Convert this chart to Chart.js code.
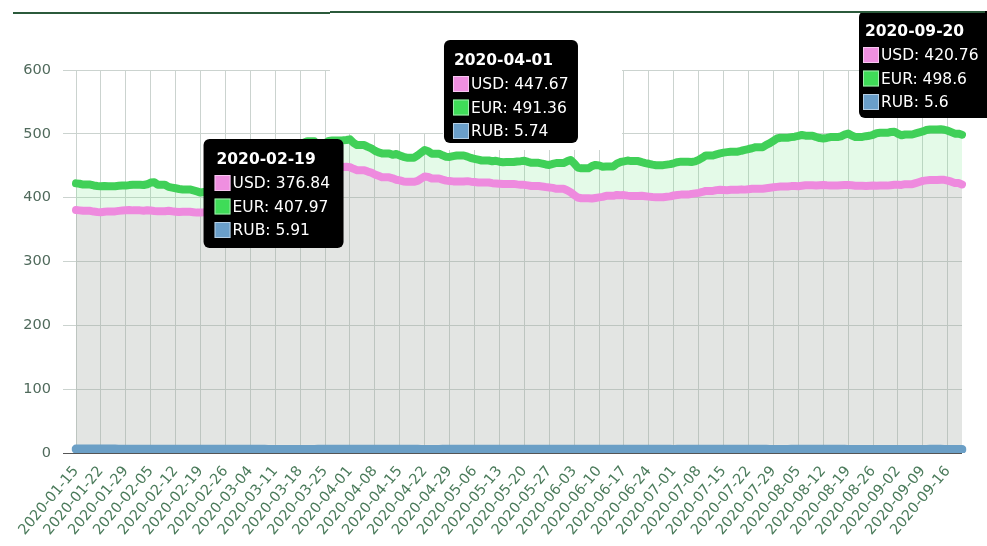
<!DOCTYPE html>
<html><head><meta charset="utf-8">
<script src="https://cdn.jsdelivr.net/npm/chart.js@4.4.1/dist/chart.umd.min.js"></script>
<style>
html,body{margin:0;padding:0;background:#fff;}
#wrap{position:relative;width:987px;height:546px;overflow:hidden;}
canvas{position:absolute;left:0;top:0;}
.topline{position:absolute;height:2px;background:#2b5a3b;}
</style></head><body>
<div id="wrap"><canvas id="c" width="987" height="546"></canvas>
<div class="topline" style="left:13px;top:12px;width:317px"></div>
<div class="topline" style="left:330px;top:11px;width:262px"></div>
<div class="topline" style="left:592px;top:11px;width:393px"></div>
</div>
<script>
// ---- data ----
const startDate = '2020-01-15';
const seriesNames = ['USD', 'EUR', 'RUB'];
const USD = [
380.6,380.1,379.4,379.4,379.4,378.2,377.6,
377.3,377.9,378.5,378.5,378.5,379.3,379.8,
380.2,380.5,380.1,380.1,380.1,379.6,380.3,
379.9,379.2,378.8,378.8,378.8,379.4,378.6,
378.1,377.5,377.9,377.9,377.9,377.2,376.6,
376.84,377.3,378.1,378.1,378.1,379.0,379.6,
380.2,381.4,382.3,382.3,382.3,381.8,382.6,
381.9,382.5,383.6,383.6,383.6,386.0,392.4,
398.5,404.1,411.0,411.0,411.0,421.5,430.2,
438.6,446.9,451.5,451.5,451.5,446.0,448.2,
448.9,450.3,448.6,448.6,448.6,448.1,448.4,
447.67,445.2,443.1,443.1,443.1,440.9,439.3,
436.4,434.2,431.9,431.9,431.9,430.3,428.1,
427.0,425.4,424.9,424.9,424.9,426.3,429.8,
433.1,432.4,430.0,430.0,430.0,428.2,426.7,
426.1,425.5,425.5,425.5,425.5,425.9,425.1,
424.6,423.8,423.8,423.8,423.8,422.7,422.3,
421.9,421.4,421.6,421.6,421.6,420.8,420.3,
420.1,419.3,418.2,418.2,418.2,417.4,416.6,
416.0,415.3,413.9,413.9,413.9,411.6,408.5,
404.2,400.3,399.1,399.1,399.1,398.6,399.5,
400.4,401.2,402.9,402.9,402.9,404.3,403.7,
404.0,403.2,402.6,402.6,402.6,403.1,402.3,
401.6,400.9,400.7,400.7,400.7,401.5,402.0,
403.4,404.1,404.8,404.8,404.8,405.9,406.7,
407.5,408.9,410.6,410.6,410.6,411.8,412.4,
412.0,411.7,412.3,412.3,412.3,413.0,412.6,
413.2,413.9,414.1,414.1,414.1,414.8,415.6,
416.2,416.9,417.5,417.5,417.5,418.1,418.4,
418.0,418.7,419.4,419.4,419.4,419.1,419.6,
420.0,419.5,419.2,419.2,419.2,419.6,419.9,
419.7,419.4,418.8,418.8,418.8,418.3,418.7,
419.0,418.5,418.9,418.9,418.9,419.5,420.1,
420.4,420.0,421.2,421.2,421.2,422.8,424.5,
426.3,427.1,427.6,427.6,427.6,428.2,427.9,
426.8,425.1,423.0,423.0,420.76
];
const EUR = [
422.4,421.8,420.5,420.5,420.5,419.1,418.3,
417.8,418.4,417.9,417.9,417.9,418.6,419.2,
418.9,419.7,420.3,420.3,420.3,419.8,421.0,
423.6,424.2,420.1,420.1,420.1,416.9,415.8,
414.7,413.6,412.9,412.9,412.9,411.4,409.8,
407.97,408.8,410.3,410.3,410.3,411.5,412.8,
414.9,418.7,421.5,421.5,421.5,425.6,427.2,
426.4,428.9,432.5,432.5,432.5,440.8,446.3,
450.1,455.4,460.8,460.8,460.8,470.2,476.5,
481.3,486.2,488.4,488.4,488.4,481.7,483.5,
485.2,488.9,489.6,489.6,489.6,489.8,490.3,
491.36,486.0,482.4,482.4,482.4,479.6,477.2,
473.5,471.0,469.3,469.3,469.3,467.1,468.4,
466.2,464.0,462.7,462.7,462.7,466.3,470.5,
474.6,472.8,468.9,468.9,468.9,466.4,464.2,
463.8,465.1,466.0,466.0,466.0,464.3,462.1,
460.9,459.5,458.2,458.2,458.2,457.0,457.8,
456.3,455.5,455.9,455.9,455.9,456.7,457.2,
457.9,456.1,454.6,454.6,454.6,453.4,452.0,
451.2,452.8,454.3,454.3,454.3,456.9,459.1,
453.8,447.2,446.0,446.0,446.0,449.5,451.3,
450.6,448.4,448.9,448.9,448.9,453.2,455.8,
456.9,458.1,457.3,457.3,457.3,455.6,454.2,
453.1,451.7,450.9,450.9,450.9,451.8,452.5,
453.9,455.6,456.4,456.4,456.4,456.0,456.8,
459.2,462.5,466.1,466.1,466.1,467.9,469.4,
470.6,471.3,472.0,472.0,472.0,473.5,474.8,
476.2,477.4,479.1,479.1,479.1,482.6,485.3,
488.9,492.7,493.9,493.9,493.9,494.8,495.5,
496.7,498.2,497.1,497.1,497.1,495.0,493.4,
492.8,493.6,494.9,494.9,494.9,496.1,498.7,
500.4,497.3,495.2,495.2,495.2,496.3,497.0,
498.5,500.9,501.6,501.6,501.6,502.9,503.4,
500.1,497.8,499.0,499.0,499.0,500.6,502.3,
503.8,505.9,506.8,506.8,506.8,507.2,506.4,
504.9,502.6,500.3,500.3,498.6
];
const RUB = [
6.18,6.19,6.20,6.20,6.20,6.17,6.14,
6.13,6.11,6.10,6.10,6.10,6.07,6.03,
6.00,5.97,5.96,5.96,5.96,5.98,6.01,
6.02,6.00,5.99,5.99,5.99,5.98,5.99,
5.97,5.96,5.95,5.95,5.95,5.93,5.92,
5.91,5.90,5.88,5.88,5.88,5.86,5.83,
5.80,5.77,5.74,5.74,5.74,5.70,5.76,
5.78,5.75,5.69,5.69,5.69,5.42,5.40,
5.52,5.55,5.61,5.61,5.61,5.60,5.62,
5.58,5.52,5.63,5.63,5.63,5.70,5.72,
5.74,5.76,5.78,5.78,5.78,5.76,5.72,
5.74,5.80,5.79,5.79,5.79,5.82,5.90,
5.88,5.86,5.85,5.85,5.85,5.84,5.83,
5.80,5.71,5.73,5.73,5.73,5.70,5.52,
5.56,5.62,5.63,5.63,5.63,5.68,5.75,
5.73,5.79,5.79,5.79,5.79,5.77,5.74,
5.72,5.76,5.76,5.76,5.76,5.82,5.78,
5.74,5.78,5.77,5.77,5.77,5.84,5.88,
5.87,5.86,5.84,5.84,5.84,5.88,5.89,
5.87,5.86,5.87,5.87,5.87,5.93,5.96,
5.94,5.80,5.82,5.82,5.82,5.84,5.83,
5.76,5.78,5.80,5.80,5.80,5.76,5.83,
5.82,5.81,5.80,5.80,5.80,5.83,5.81,
5.79,5.77,5.74,5.74,5.74,5.72,5.68,
5.63,5.69,5.73,5.73,5.73,5.70,5.71,
5.69,5.74,5.78,5.78,5.78,5.77,5.76,
5.79,5.80,5.82,5.82,5.82,5.84,5.85,
5.83,5.80,5.76,5.76,5.76,5.73,5.67,
5.63,5.61,5.59,5.59,5.59,5.68,5.70,
5.71,5.70,5.73,5.73,5.73,5.69,5.74,
5.72,5.71,5.70,5.70,5.70,5.71,5.69,
5.67,5.65,5.61,5.61,5.61,5.62,5.63,
5.61,5.58,5.55,5.55,5.55,5.59,5.60,
5.59,5.56,5.53,5.53,5.53,5.59,5.61,
5.63,5.64,5.68,5.68,5.68,5.70,5.66,
5.64,5.62,5.60,5.60,5.60
];
const yTicks = [0, 100, 200, 300, 400, 500, 600];
const tickEvery = 7;
const tooltipDays = ['2020-02-19', '2020-04-01', '2020-09-20'];

// category labels: consecutive days from startDate
const labels = [];
{
  const d0 = new Date(startDate + 'T00:00:00Z');
  for (let i = 0; i < USD.length; i++) {
    const d = new Date(d0.getTime() + i * 86400000);
    labels.push(d.toISOString().slice(0, 10));
  }
}

// ---- styling (not data) ----
const lineColors = ['#ee8ade', '#40d058', '#6b9fc6'];
const boxColors = ['#ef8fe0', '#3fdc58', '#6a9fca'];
const tipGeom = [
  {dx: 3,   top: 139, w: 140, h: 109, tx: 13, bx: 11},
  {dx: 94,  top: 40,  w: 134, h: 103, tx: 10, bx: 9},
  {dx: -103,top: 11,  w: 140, h: 107, tx: 6,  bx: 4}
];
// blank (white) areas left around the pasted tooltip in the source picture
const blankAreas = [
  {x0: 330, x1: 443, y0: 60, y1: 133},
  {x0: 443, x1: 622, y0: 40, y1: 150}
];

const tipPlugin = {
  id: 'fixedTips',
  beforeDatasetsDraw(chart) {
    const ctx = chart.ctx;
    ctx.save();
    ctx.fillStyle = '#fff';
    blankAreas.forEach(a => ctx.fillRect(a.x0, a.y0, a.x1 - a.x0, a.y1 - a.y0));
    ctx.restore();
  },
  afterDraw(chart) {
    const ctx = chart.ctx;
    const xs = chart.scales.x;
    tooltipDays.forEach((day, k) => {
      const idx = labels.indexOf(day);
      const g = tipGeom[k];
      const left = xs.getPixelForValue(idx) + g.dx;
      const top = g.top;
      ctx.save();
      ctx.fillStyle = '#000';
      ctx.beginPath();
      ctx.roundRect(left, top, g.w, g.h, 6);
      ctx.fill();
      ctx.fillStyle = '#fff';
      ctx.textBaseline = 'alphabetic';
      ctx.textAlign = 'left';
      ctx.font = 'bold 15.5px "DejaVu Sans"';
      ctx.fillText(labels[idx], left + g.tx, top + 25);
      ctx.font = '15.5px "DejaVu Sans"';
      chart.data.datasets.forEach((ds, i) => {
        const by = top + 36 + 23.5 * i;
        ctx.fillStyle = boxColors[i];
        ctx.fillRect(left + g.bx, by, 16, 16);
        ctx.strokeStyle = 'rgba(255,255,255,0.5)';
        ctx.lineWidth = 1;
        ctx.strokeRect(left + g.bx + 0.5, by + 0.5, 15, 15);
        ctx.fillStyle = '#fff';
        ctx.fillText(ds.label + ': ' + ds.data[idx], left + g.bx + 18, top + 49 + 23.5 * i);
      });
      ctx.restore();
    });
  }
};

new Chart(document.getElementById('c'), {
  type: 'line',
  data: {
    labels: labels,
    datasets: [
      {label: seriesNames[0], data: USD, borderColor: lineColors[0], backgroundColor: 'rgba(150,160,150,0.27)',
       fill: 'origin', borderWidth: 8, pointRadius: 0, tension: 0, borderJoinStyle: 'round', borderCapStyle: 'round', order: 1},
      {label: seriesNames[1], data: EUR, borderColor: lineColors[1], backgroundColor: 'rgba(120,230,140,0.2)',
       fill: 0, borderWidth: 8, pointRadius: 0, tension: 0, borderJoinStyle: 'round', borderCapStyle: 'round', order: 2},
      {label: seriesNames[2], data: RUB, borderColor: lineColors[2], backgroundColor: lineColors[2],
       fill: false, borderWidth: 9, pointRadius: 0, tension: 0, borderJoinStyle: 'round', borderCapStyle: 'round', order: 0}
    ]
  },
  options: {
    responsive: false,
    animation: false,
    devicePixelRatio: 1,
    layout: {padding: {top: 70, right: 25, left: 0, bottom: 0}},
    plugins: {legend: {display: false}, tooltip: {enabled: false}},
    events: [],
    scales: {
      x: {
        afterFit: s => { s.height = 93; },
        grid: {
          color: '#cbd3cf', lineWidth: 1, drawTicks: false
        },
        border: {display: false},
        ticks: {
          autoSkip: false, minRotation: 50, maxRotation: 50, padding: 10,
          color: '#4b7b5b', font: {family: 'DejaVu Sans', size: 14.5},
          callback: function (v, i) { return i % tickEvery === 0 ? labels[i] : null; }
        }
      },
      y: {
        min: yTicks[0], max: yTicks[yTicks.length - 1],
        afterFit: s => { s.width = 76; },
        afterBuildTicks: s => { s.ticks = yTicks.map(v => ({value: v})); },
        grid: {
          color: ctx => (ctx.tick && ctx.tick.value === 0) ? '#555' : '#cbd3cf',
          tickLength: 13
        },
        border: {display: false},
        ticks: {
          padding: 12, color: '#506a5c', font: {family: 'DejaVu Sans', size: 14.5}
        }
      }
    }
  },
  plugins: [tipPlugin]
});
</script>
</body></html>
